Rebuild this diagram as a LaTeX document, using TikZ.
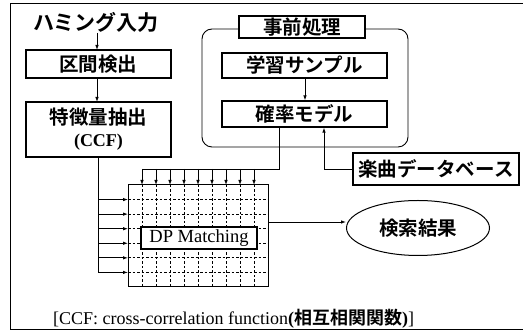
\documentclass[tikz,border=0pt]{standalone}
\usepackage{fontspec}
\setmainfont{Liberation Serif}
\newfontfamily\jp[BoldFont={Noto Sans CJK JP Bold}]{Noto Sans CJK JP}
\usetikzlibrary{arrows.meta,shapes.geometric}
\begin{document}
\begin{tikzpicture}[x=1pt,y=-1pt,
  every node/.style={font=\fontsize{18}{23}\selectfont, inner sep=0pt},
  jt/.style={font=\fontsize{19.5}{24}\selectfont\jp\bfseries},
  boxn/.style={draw, line width=1.1pt, fill=white, jt, align=center},
  conn/.style={line width=0.8pt},
  arr/.style={conn, -{Latex[length=5pt,width=3.5pt]}},
  gridl/.style={line width=0.7pt, dash pattern=on 2.5pt off 2pt}
]
\useasboundingbox (0,0) rectangle (523,336);
% outer frame
\draw[line width=0.9pt] (523,3) -- (10,3) -- (10,329) -- (523,329);

% left chain
\node[jt, font=\fontsize{21}{24}\selectfont\jp\bfseries] (inp) at (96,22) {ハミング入力};
\node[boxn, minimum width=145pt, minimum height=28pt] (b1) at (98.5,64) {区間検出};
\node[boxn, minimum width=145pt, minimum height=55pt] (b2) at (98.5,129.5) {特徴量抽出\\[-2pt]{\fontsize{18}{22}\selectfont\rmfamily\bfseries (CCF)}};
\draw[arr] (97,33) -- (97,50);
\draw[arr] (97,78) -- (97,102);

% preprocessing group
\draw[line width=0.9pt, rounded corners=10pt] (202,29) rectangle (408,147);
\node[boxn, minimum width=126pt, minimum height=22pt] (pre) at (302,27) {事前処理};
\node[boxn, minimum width=165pt, minimum height=25pt] (b3) at (304.5,65.5) {学習サンプル};
\node[boxn, minimum width=165pt, minimum height=26pt] (b4) at (304.5,114) {確率モデル};
\draw[arr] (b3.south -| 305,0) -- (b4.north -| 305,0);

% database
\node[boxn, minimum width=166pt, minimum height=32pt] (db) at (436,169) {楽曲データベース};
\coordinate (dbk) at (324,169);
\draw[arr] (db.west) -- (dbk) -- (b4.south -| dbk);

% grid
\node[draw, line width=1pt, minimum width=140pt, minimum height=102pt] (grid) at (198,236) {};
\foreach \i in {1,...,9} {
  \draw[gridl] (128+14*\i,185) -- (128+14*\i,287);
}
\foreach \j in {1,...,6} {
  \draw[gridl] (128,185+14.57*\j) -- (268,185+14.57*\j);
}
\node[boxn, font=\fontsize{18.5}{23}\selectfont\rmfamily, minimum width=116pt, minimum height=22pt] (dp) at (199,238) {DP Matching};

% top inputs from probability model
\coordinate (pk) at (279,169);
\draw[conn] (b4.south -| pk) -- (pk) -- (142,169);
\foreach \i in {1,...,9} {
  \draw[arr] (128+14*\i,169) -- (128+14*\i,185);
}

% left inputs from feature extraction
\coordinate (fk) at (98,272.4);
\draw[conn] (b2.south -| fk) -- (fk);
\foreach \j in {1,...,6} {
  \draw[arr] (98,185+14.57*\j) -- (128,185+14.57*\j);
}

% result
\node[draw, ellipse, line width=1pt, jt, minimum width=143pt, minimum height=55pt] (res) at (418,228) {検索結果};
\coordinate (gout) at (268,222);
\draw[arr] (gout) -- (gout -| res.west);

% caption
\node[anchor=west] (cap) at (53,319) {[CCF: cross-correlation function\textbf{(}{\jp\bfseries 相互相関関数}\textbf{)}]};
\end{tikzpicture}
\end{document}
